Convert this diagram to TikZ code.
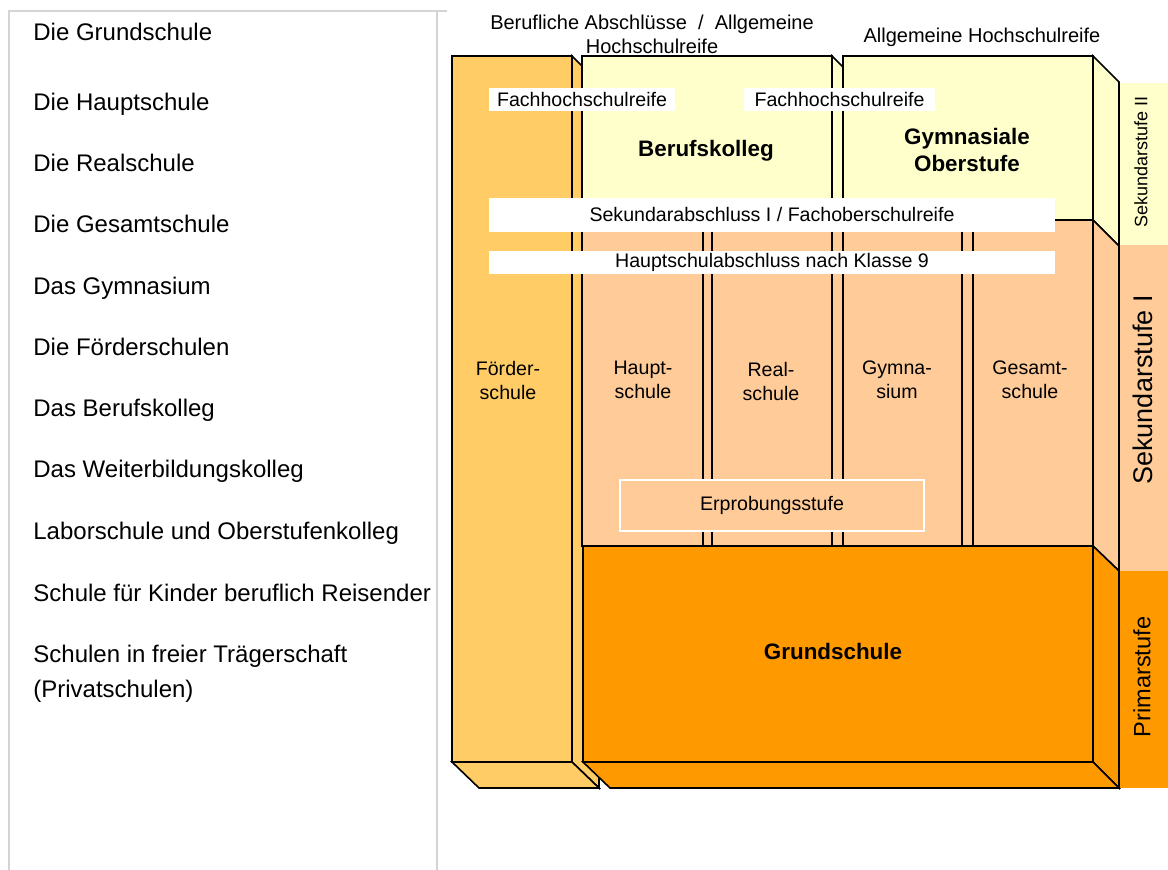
\documentclass[tikz,border=0pt]{standalone}
\usepackage{fontspec}
\setmainfont{Liberation Sans}
\definecolor{foerder}{HTML}{FFCC66}
\definecolor{oberst}{HTML}{FFFFCC}
\definecolor{sekeins}{HTML}{FFCC99}
\definecolor{grund}{HTML}{FF9900}
\definecolor{rahmen}{HTML}{D4D4D4}
\begin{document}
\begin{tikzpicture}[x=0.5pt,y=-0.5pt,
    bloc/.style={draw=black,line width=0.8pt},
    petit/.style={font=\fontsize{9.8}{12}\selectfont,align=center,inner sep=0pt},
    gras/.style={font=\bfseries\fontsize{11.2}{13.5}\selectfont,align=center,inner sep=0pt},
    bande/.style={fill=white,inner sep=0pt,minimum height=11.5pt,font=\fontsize{9.8}{12}\selectfont},
    liste/.style={anchor=base west,inner sep=0pt,align=left,font=\fontsize{12}{17.5}\selectfont}]
\useasboundingbox (0,0) rectangle (1168,870);
% cadre de la liste
\draw[rahmen,line width=0.75pt] (9,870) -- (9,11) -- (447,11);
\draw[rahmen,line width=0.75pt] (437,11) -- (437,870);
\node[liste] (lgrund) at (33,40.5) {Die Grundschule};
\node[liste] (lhaupt) at (33,110.5) {Die Hauptschule};
\node[liste] (lreal) at (33,171.5) {Die Realschule};
\node[liste] (lgesamt) at (33,232.5) {Die Gesamtschule};
\node[liste] (lgymn) at (33,294.5) {Das Gymnasium};
\node[liste] (lfoerder) at (33,355.5) {Die Förderschulen};
\node[liste] (lberuf) at (33,416.5) {Das Berufskolleg};
\node[liste] (lweiter) at (33,477.5) {Das Weiterbildungskolleg};
\node[liste] (llabor) at (33,539.5) {Laborschule und Oberstufenkolleg};
\node[liste] (lreise) at (33,601.5) {Schule für Kinder beruflich Reisender};
\node[liste] (lprivat) at (33,697.5) {Schulen in freier Trägerschaft\\(Privatschulen)};%base = derniere ligne
% bandes des stufen a droite
\fill[oberst] (1119,83) rectangle (1168,245);
\fill[sekeins] (1119,245) rectangle (1168,571);
\fill[grund] (1119,571) rectangle (1168,788);
\node[rotate=90,inner sep=0pt,font=\fontsize{9}{11}\selectfont] (sekzwei) at (1141,162) {Sekundarstufe II};
\node[rotate=90,inner sep=0pt,font=\fontsize{13.5}{16}\selectfont] (sekeinslab) at (1143,390) {Sekundarstufe I};
\node[rotate=90,inner sep=0pt,font=\fontsize{11.8}{14}\selectfont] (primar) at (1142,677) {Primarstufe};
% Foerderschule
\filldraw[bloc,fill=foerder] (572,56) -- (599,83) -- (599,788) -- (572,762) -- cycle;
\filldraw[bloc,fill=foerder] (452,762) -- (572,762) -- (599,788) -- (479,788) -- cycle;
\filldraw[bloc,fill=foerder] (452,56) rectangle (572,762);
% Berufskolleg et Oberstufe
\filldraw[bloc,fill=oberst] (832,56) -- (859,83) -- (859,247) -- (832,220) -- cycle;
\filldraw[bloc,fill=oberst] (582,56) rectangle (832,220);
\filldraw[bloc,fill=oberst] (1093,56) -- (1119,82) -- (1119,246) -- (1093,220) -- cycle;
\filldraw[bloc,fill=oberst] (843,56) rectangle (1093,220);
% Sekundarstufe I
\filldraw[bloc,fill=sekeins] (703,220) -- (730,247) -- (730,573) -- (703,546) -- cycle;
\filldraw[bloc,fill=sekeins] (582,220) rectangle (703,546);
\filldraw[bloc,fill=sekeins] (832,220) -- (859,247) -- (859,573) -- (832,546) -- cycle;
\filldraw[bloc,fill=sekeins] (712,220) rectangle (832,546);
\filldraw[bloc,fill=sekeins] (962,220) -- (989,247) -- (989,573) -- (962,546) -- cycle;
\filldraw[bloc,fill=sekeins] (843,220) rectangle (962,546);
\filldraw[bloc,fill=sekeins] (1093,220) -- (1119,246) -- (1119,571) -- (1093,546) -- cycle;
\filldraw[bloc,fill=sekeins] (973,220) rectangle (1093,546);
% Grundschule
\filldraw[bloc,fill=grund] (1093,546) -- (1119,571) -- (1119,788) -- (1093,762) -- cycle;
\filldraw[bloc,fill=grund] (583,762) -- (1093,762) -- (1119,788) -- (610,788) -- cycle;
\filldraw[bloc,fill=grund] (583,546) rectangle (1093,762);
% textes
\node[petit,font=\fontsize{10}{12}\selectfont] (abschl) at (652,34) {Berufliche Abschlüsse \ / \ Allgemeine\\Hochschulreife};
\node[petit,font=\fontsize{10}{12}\selectfont] (ahr) at (982,37) {Allgemeine Hochschulreife};
\node[bande,minimum width=93pt] (fhreins) at (582,99.5) {Fachhochschulreife};
\node[bande,minimum width=95.5pt] (fhrzwei) at (839.5,99.5) {Fachhochschulreife};
\node[gras] (berufsk) at (706,151) {Berufskolleg};
\node[gras] (gymob) at (967,150) {Gymnasiale\\Oberstufe};
\node[bande,minimum width=283pt,minimum height=17pt] (sekab) at (772,215) {Sekundarabschluss I / Fachoberschulreife};
\node[bande,minimum width=283pt] (hsab) at (772,262.5) {Hauptschulabschluss nach Klasse 9};
\node[petit] (foerdlab) at (508,381) {Förder-\\schule};
\node[petit] (hauptlab) at (643,380) {Haupt-\\schule};
\node[petit] (reallab) at (771,382) {Real-\\schule};
\node[petit] (gymlab) at (897,380) {Gymna-\\sium};
\node[petit] (gesamtlab) at (1030,380) {Gesamt-\\schule};
\node[petit,fill=sekeins,draw=white,line width=1pt,minimum width=152pt,minimum height=25.5pt] (erprob) at (772,505.5) {Erprobungsstufe};
\node[gras] (grundlab) at (833,651) {Grundschule};
\end{tikzpicture}
\end{document}
